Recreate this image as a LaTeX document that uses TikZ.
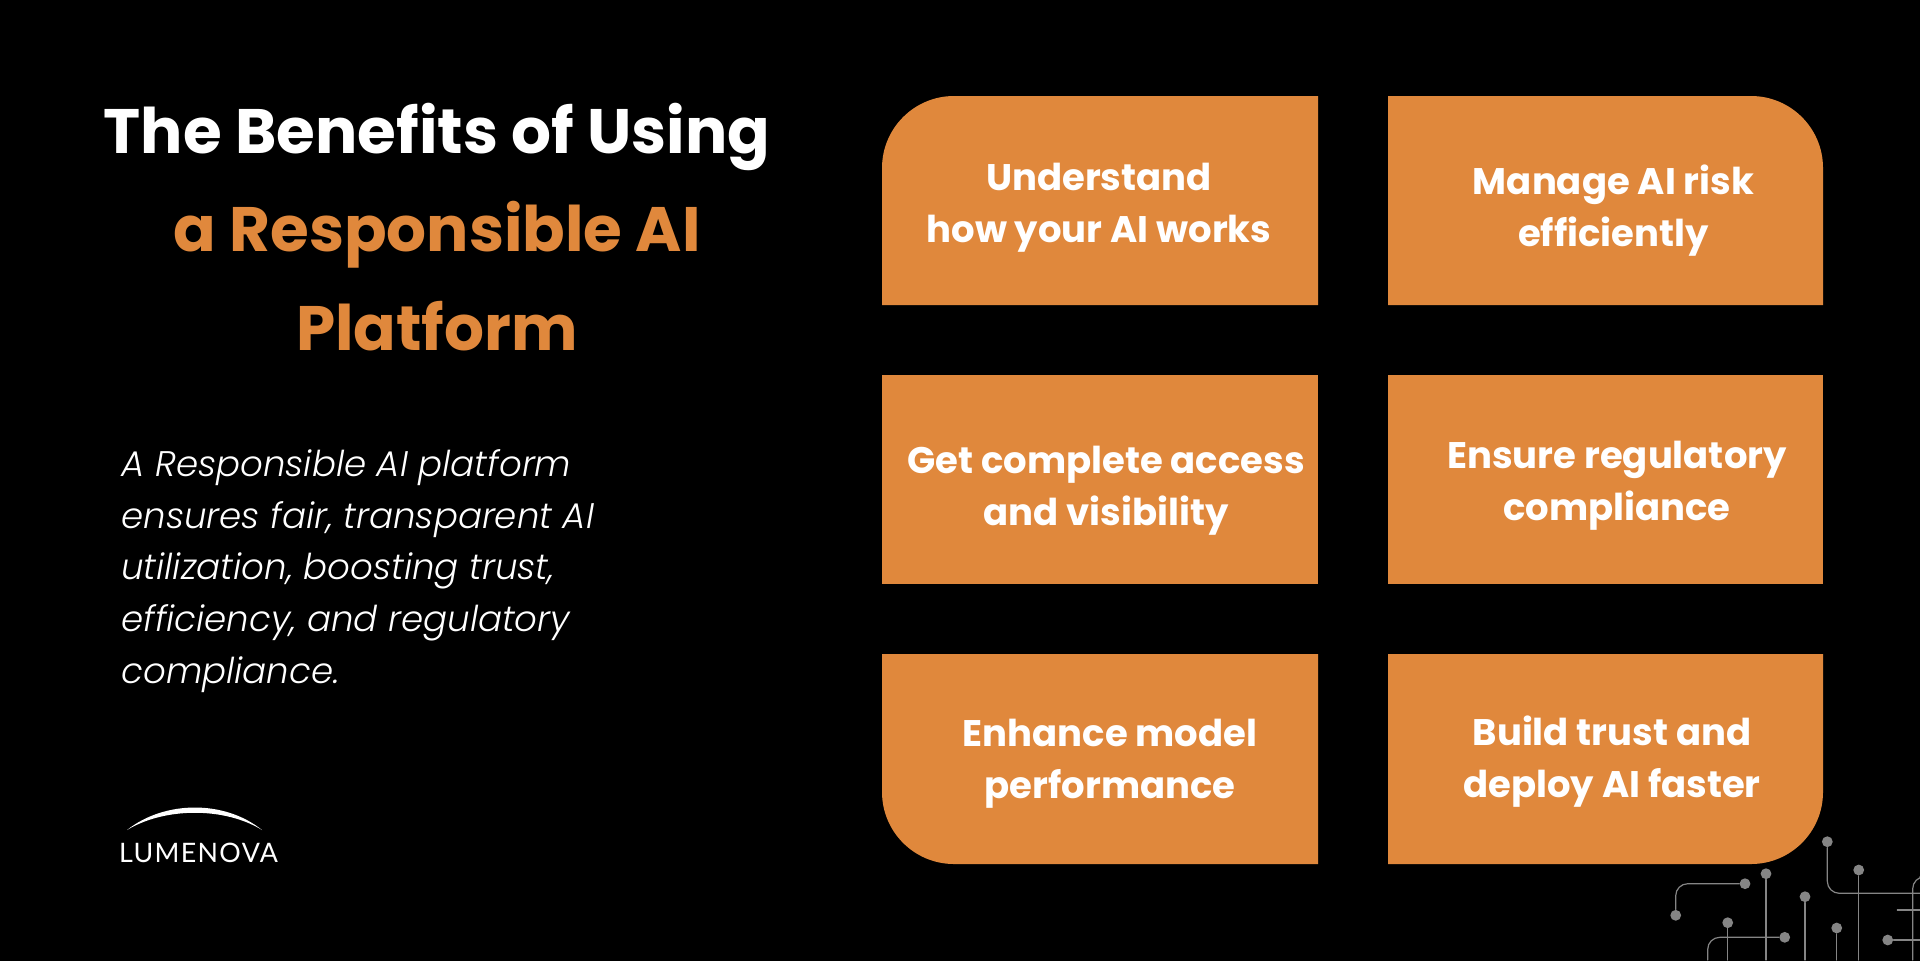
\documentclass[tikz,border=0pt]{standalone}
\usepackage{fontspec}
\setmainfont{Poppins Light}[ItalicFont=Poppins Light Italic]
\newfontfamily\poppins{Poppins}
\newfontfamily\logofont{Lato}[LetterSpace=5]
\definecolor{cardorange}{HTML}{E0883C}
\definecolor{tracegray}{HTML}{858585}
\begin{document}
\begin{tikzpicture}[x=.5pt,y=-.5pt, line join=round, line cap=round]

		\tikzset{title style/.style={font=\poppins\bfseries\fontsize{31.4}{31.4}\selectfont,anchor=base}}
		\tikzset{card/.style={fill=cardorange}}
		\tikzset{card text/.style={font=\poppins\bfseries\fontsize{18.5}{26}\selectfont,text=white,align=center}}
		\tikzset{pin/.style={circle,fill=tracegray,inner sep=0pt,minimum size=5.4pt}}
		\tikzset{trace/.style={draw=tracegray,line width=.6pt,rounded corners=6pt}}

		\useasboundingbox (0,0) rectangle (1920,960);
		\fill[black] (-4,-4) rectangle (1924,964);

		\node[title style,text=white] (titleA) at (437,153) {The Benefits of Using};
		\node[title style,text=cardorange] (titleB) at (437,251.5) {a Responsible AI};
		\node[title style,text=cardorange] (titleC) at (437,350.5) {Platform};
		\node[font=\itshape\fontsize{17.8}{25.9}\selectfont,text=white,align=left,anchor=north west,inner sep=0pt] (blurb) at (121,449)
		{A Responsible AI platform\\ensures fair, transparent AI\\utilization, boosting trust,\\efficiency, and regulatory\\compliance.};

		\fill[white] (127,830) .. controls (165,800) and (225,800) .. (262,830) .. controls (225,807) and (165,807) .. (127,830);
		\node[font=\logofont\fontsize{13.4}{13.4}\selectfont,text=white,anchor=base] (logo) at (198.5,862) {LUMENOVA};

		\fill[card] (882,305) [rounded corners=36pt] -- (882,96) [sharp corners] -- (1318,96) -- (1318,305) -- cycle;
		\fill[card] (1388,305) -- (1388,96) [rounded corners=36pt] -- (1823,96) [sharp corners] -- (1823,305) -- cycle;
		\foreach \x/\w in {882/1318,1388/1823}
		\fill[card] (\x,375) rectangle (\w,584);
		\fill[card] (882,654) [rounded corners=36pt] -- (882,864) [sharp corners] -- (1318,864) -- (1318,654) -- cycle;
		\fill[card] (1388,654) -- (1388,864) [rounded corners=36pt] -- (1823,864) [sharp corners] -- (1823,654) -- cycle;

		\node[card text] (understand) at (1099,208) {Understand\\how your AI works};
		\node[card text] (manage) at (1613.5,211) {Manage AI risk\\efficiently};
		\node[card text] (access) at (1106,491) {Get complete access\\and visibility};
		\node[card text] (ensure) at (1617,486) {Ensure regulatory\\compliance};
		\node[card text] (enhance) at (1110,764) {Enhance model\\performance};
		\node[card text] (build) at (1612,762) {Build trust and\\deploy AI faster};

		\foreach \n/\x/\y in {pinC/1766/873.7,pinD/1727.7/922.7,pinF/1805/896.7,pinH/1858.7/870,pinI/1836.7/928} {
			\node[pin] (\n) at (\x,\y) {};
			\coordinate (\n end) at (\x,960);
			\draw[trace] (\n) -- (\n end);
		}
		\node[pin] (pinA) at (1745,883.7) {};
		\node[pin] (pinB) at (1675.7,915.3) {};
		\draw[trace] (pinA) -| (pinB);
		\node[pin] (pinE) at (1784.7,937.3) {};
		\coordinate (pinE end) at (1707.7,960);
		\draw[trace] (pinE) -| (pinE end);
		\node[pin] (pinG) at (1827.3,841.7) {};
		\coordinate (pinG end) at (1920,893.3);
		\draw[trace] (pinG) |- (pinG end);
		\node[pin] (pinJ) at (1887.7,940) {};
		\coordinate (pinJ end) at (1920,940);
		\draw[trace] (pinJ) -- (pinJ end);
		\coordinate (stubA) at (1897.3,910);
		\coordinate (stubB) at (1920,910);
		\draw[trace] (stubA) -- (stubB);
		\coordinate (bendA) at (1920,876.7);
		\coordinate (bendB) at (1912.7,960);
		\draw[trace] (bendA) -| (bendB);
		\end{tikzpicture}
\end{document}
